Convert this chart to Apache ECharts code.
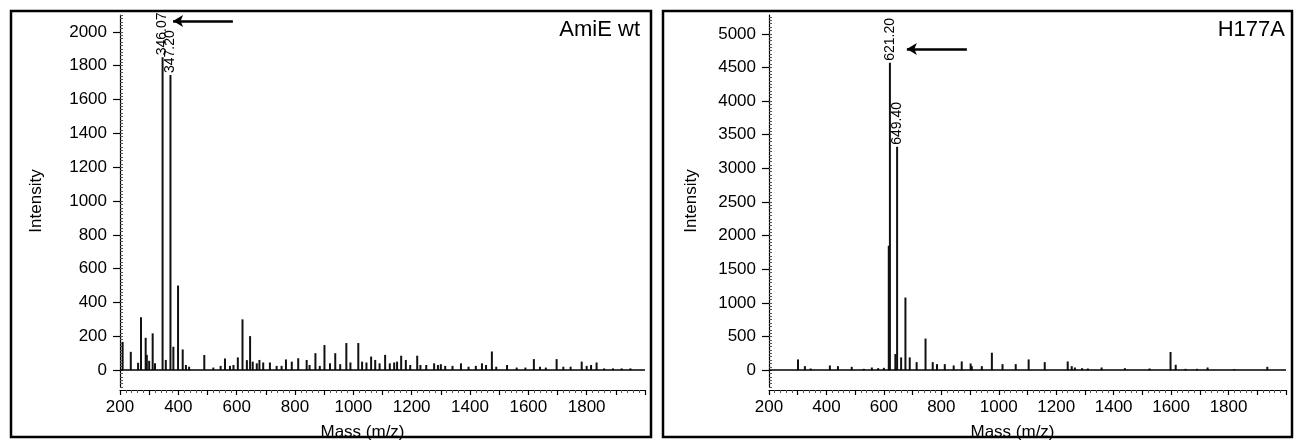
<!DOCTYPE html>
<html>
<head>
<meta charset="utf-8">
<title>AmiE MS</title>
<script src="https://cdn.jsdelivr.net/npm/echarts@6/dist/echarts.min.js"></script>
<style>
html,body{margin:0;padding:0;background:#fff;}
#main{width:1294px;height:440px;}
</style>
</head>
<body>
<div id="main"></div>
<script>
/*
 * 左图 AmiE wt
 */
var wtMz  = [209,237,262,272,288,292,300,312,320,346,357,373,383,399,415,426,437,489,520,545,560,577,589,604,620,635,646,655,669,678,691,714,737,754,769,789,811,840,850,870,885,901,920,938,955,976,990,1017,1030,1045,1061,1075,1090,1109,1125,1140,1150,1164,1180,1195,1219,1230,1250,1277,1290,1300,1315,1340,1369,1395,1420,1441,1455,1475,1490,1527,1560,1590,1619,1640,1660,1697,1720,1745,1783,1800,1815,1834,1860,1890,1920,1950];
var wtInt = [167,108,43,312,191,90,55,217,40,1850,60,1745,138,500,122,30,20,89,15,25,69,25,30,75,300,59,201,50,40,60,45,45,25,25,63,50,70,60,30,100,25,148,40,100,35,160,45,160,50,45,80,60,40,90,40,45,50,85,60,30,85,30,30,40,30,35,25,25,40,20,25,40,30,110,20,30,15,15,65,20,15,65,20,20,50,25,30,45,10,10,10,10];
var wtTagMz = [346, 373];
var wtTagText = ['346.07', '347.20'];
var wtArrow = [[587, 2064], [382, 2064]];
var wtYTicks = [0,200,400,600,800,1000,1200,1400,1600,1800,2000];

/*
 * 右图 H177A
 */
var hMz  = [301,325,345,412,440,488,530,558,580,600,617,621,640,646,660,675,690,714,745,770,785,812,843,871,902,906,941,976,1013,1059,1104,1160,1240,1254,1265,1290,1310,1358,1439,1525,1598,1616,1650,1690,1727,1820,1935];
var hInt = [160,60,25,70,60,50,20,40,30,35,1850,4570,240,3320,190,1080,190,120,470,120,90,90,70,130,100,60,60,260,90,90,160,120,130,60,40,30,25,40,30,25,270,80,20,20,40,15,50];
var hTagMz = [621, 646];
var hTagText = ['621.20', '649.40'];
var hArrow = [[889, 4775], [680, 4775]];
var hYTicks = [0,500,1000,1500,2000,2500,3000,3500,4000,4500,5000];

var xLabels = [200,400,600,800,1000,1200,1400,1600,1800];
var FONT = '"Liberation Sans", Arial, sans-serif';

function range(a, b, s) {
    var r = [];
    for (var v = a; v <= b; v += s) r.push(v);
    return r;
}

// 组装柱状数据, 带标签的峰单独设置 label
function peaks(mz, ints, tagMz, tagText) {
    var d = [];
    for (var i = 0; i < mz.length; i++) {
        var k = tagMz.indexOf(mz[i]);
        if (k >= 0) {
            d.push({
                name: tagText[k],
                value: [mz[i], ints[i]],
                label: {
                    show: true, position: 'top', rotate: 90, align: 'left', verticalAlign: 'middle',
                    distance: 2, formatter: '{b}', fontSize: 14, color: '#000', fontFamily: FONT
                }
            });
        } else {
            d.push([mz[i], ints[i]]);
        }
    }
    return d;
}

function xAxisOf(idx, padRight) {
    return {
        gridIndex: idx, type: 'value', min: 200, max: 2000, interval: 100, offset: 3,
        axisLine: {onZero: false, lineStyle: {color: '#000', width: 1.2}},
        axisTick: {length: 5, lineStyle: {color: '#000', width: 1.2}},
        minorTick: {show: true, splitNumber: 5, length: 3, lineStyle: {color: '#555'}},
        splitLine: {show: false},
        axisLabel: {
            color: '#000', fontSize: 17, fontFamily: FONT, margin: 9,
            formatter: function (v) { return xLabels.indexOf(v) >= 0 ? String(v) : ''; }
        },
        name: 'Mass (m/z)', nameLocation: 'middle', nameGap: 34,
        nameTextStyle: {color: '#000', fontSize: 17, fontFamily: FONT, padding: [0, padRight, 0, 0]}
    };
}

function yAxisOf(idx, min, max, ticks, gap) {
    return {
        gridIndex: idx, type: 'value', min: min, max: max,
        axisLine: {show: true, lineStyle: {color: '#000', width: 1.2}},
        axisTick: {show: true, customValues: ticks, length: 7, lineStyle: {color: '#000', width: 1.2}},
        axisLabel: {
            customValues: ticks, color: '#000', fontSize: 17, fontFamily: FONT, margin: 13,
            formatter: function (v) { return String(v); }
        },
        splitLine: {show: false},
        name: 'Intensity', nameLocation: 'middle', nameGap: gap,
        nameTextStyle: {color: '#000', fontSize: 17, fontFamily: FONT}
    };
}

// 细刻度
function yMinorOf(idx, min, max, step) {
    return {
        gridIndex: idx, type: 'value', min: min, max: max, position: 'left',
        axisLine: {show: false},
        axisTick: {show: true, inside: true, customValues: range(min, max, step), length: 3, lineStyle: {color: '#555'}},
        axisLabel: {show: false},
        splitLine: {show: false}
    };
}

function spectrum(xi, yi, data, arrow) {
    return {
        type: 'bar', xAxisIndex: xi, yAxisIndex: yi,
        barWidth: 2, itemStyle: {color: '#111'},
        data: data,
        silent: true,
        markLine: {
            silent: true, animation: false,
            symbol: ['none', 'none'],
            label: {show: false},
            data: [
                {yAxis: 0, lineStyle: {color: '#000', width: 1.5, type: 'solid'}},
                [
                    {coord: arrow[0], symbol: 'none', lineStyle: {color: '#000', width: 2.5, type: 'solid'}},
                    {coord: arrow[1], symbol: 'arrow', symbolSize: [9, 10]}
                ]
            ]
        }
    };
}

var myChart = echarts.init(document.getElementById('main'));
myChart.setOption({
    animation: false,
    textStyle: {fontFamily: FONT},
    title: [
        {text: 'AmiE wt', right: 649, top: 14, textStyle: {fontSize: 22, fontWeight: 'normal', color: '#000', fontFamily: FONT}},
        {text: 'H177A', right: 4, top: 14, textStyle: {fontSize: 22, fontWeight: 'normal', color: '#000', fontFamily: FONT}}
    ],
    graphic: [
        {type: 'rect', shape: {x: 11, y: 11, width: 640, height: 426}, style: {fill: 'none', stroke: '#000', lineWidth: 2.5}},
        {type: 'rect', shape: {x: 663, y: 11, width: 629, height: 426}, style: {fill: 'none', stroke: '#000', lineWidth: 2.5}}
    ],
    grid: [
        {left: 120, right: 649, top: 15, bottom: 53, outerBoundsMode: 'none'},
        {left: 769, right: 8, top: 15, bottom: 53, outerBoundsMode: 'none'}
    ],
    xAxis: [xAxisOf(0, 40), xAxisOf(1, 30)],
    yAxis: [
        yAxisOf(0, -100, 2100, wtYTicks, 75),
        yMinorOf(0, -100, 2100, 20),
        yAxisOf(1, -250, 5280, hYTicks, 69),
        yMinorOf(1, -250, 5280, 50)
    ],
    series: [
        spectrum(0, 0, peaks(wtMz, wtInt, wtTagMz, wtTagText), wtArrow),
        spectrum(1, 2, peaks(hMz, hInt, hTagMz, hTagText), hArrow)
    ]
});
</script>
</body>
</html>
